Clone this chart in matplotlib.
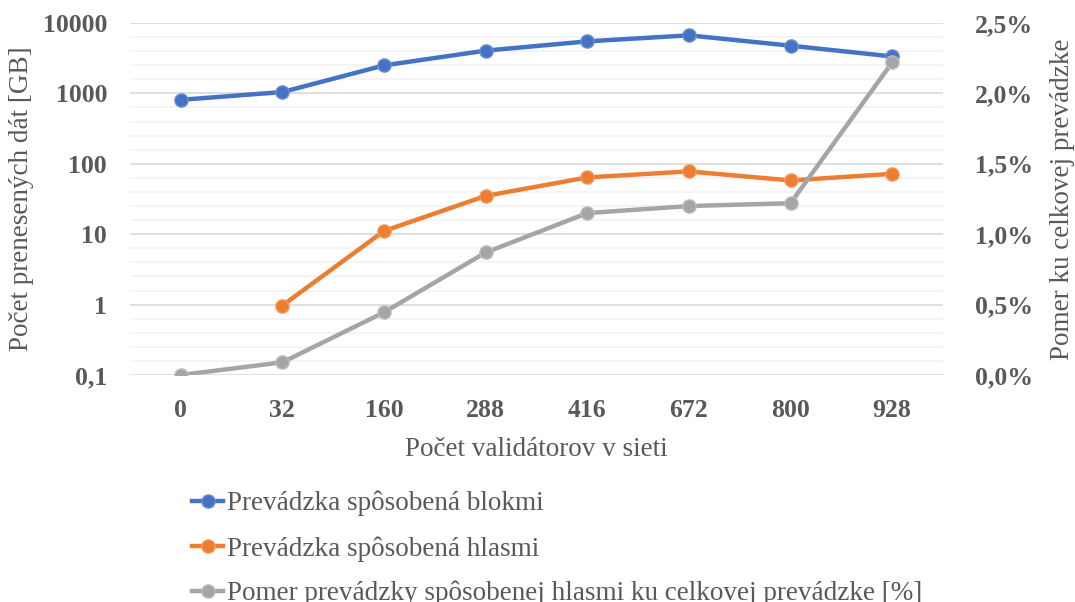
import matplotlib.pyplot as plt
import matplotlib.ticker as mticker
import numpy as np

plt.rcParams['font.family'] = ['Liberation Serif', 'DejaVu Serif']

# data
validatory = ['0', '32', '160', '288', '416', '672', '800', '928']
bloky = [810, 1045, 2500, 4050, 5480, 6680, 4760, 3350]
hlasy = [np.nan, 0.97, 11.1, 35, 64, 78, 58, 72]
pomer = [0.0, 0.0009, 0.00445, 0.0087, 0.0115, 0.0120, 0.0122, 0.0222]

nazvy = ['Prevádzka spôsobená blokmi',
         'Prevádzka spôsobená hlasmi',
         'Pomer prevádzky spôsobenej hlasmi ku celkovej prevádzke [%]']

modra = '#4472C4'
oranzova = '#ED7D31'
seda = '#A5A5A5'
text_farba = '#595959'

fig, ax = plt.subplots(figsize=(10.75, 6.02), dpi=100)
fig.subplots_adjust(left=0.1209, right=0.8772, top=0.9618, bottom=0.3771)

x = np.arange(len(validatory))

# lavá os - logaritmická
ax.set_yscale('log')
ax.set_ylim(0.1, 10000)
ax.set_xlim(-0.5, len(validatory) - 0.5)
ax.yaxis.set_major_locator(mticker.FixedLocator([0.1, 1, 10, 100, 1000, 10000]))
ax.yaxis.set_major_formatter(mticker.FixedFormatter(['0,1', '1', '10', '100', '1000', '10000']))
ax.yaxis.set_minor_locator(mticker.FixedLocator(10 ** np.arange(-1, 4.01, 0.2)))
ax.yaxis.set_minor_formatter(mticker.NullFormatter())
ax.grid(True, which='minor', axis='y', color='#F2F2F2', linewidth=1.2, zorder=0)
ax.grid(True, which='major', axis='y', color='#D9D9D9', linewidth=1.2, zorder=0)
ax.set_axisbelow(True)

l1, = ax.plot(x, bloky, color=modra, lw=3.2, marker='o', ms=9.5,
              mec='#6C8FD2', mew=1, label=nazvy[0], zorder=3)
l2, = ax.plot(x, hlasy, color=oranzova, lw=3.2, marker='o', ms=9.5,
              mec='#F29A5E', mew=1, label=nazvy[1], zorder=3)

ax.set_xticks(x)
ax.set_xticklabels(validatory)
ax.tick_params(axis='both', which='both', length=0, labelsize=18.5, colors=text_farba)
ax.tick_params(axis='x', pad=17)
ax.tick_params(axis='y', pad=16.5)
for t in ax.get_xticklabels() + ax.get_yticklabels():
    t.set_fontweight('bold')

ax.set_xlabel('Počet validátorov v sieti', fontsize=19.5, color=text_farba, labelpad=11)
ax.set_ylabel('Počet prenesených dát [GB]', fontsize=19.5, color=text_farba, labelpad=6)

# pravá os - pomer v percentách
ax2 = ax.twinx()
ax2.set_ylim(0, 0.025)
ax2.yaxis.set_major_locator(mticker.MultipleLocator(0.005))
ax2.yaxis.set_major_formatter(mticker.FuncFormatter(lambda v, p: f'{v * 100:.1f}%'.replace('.', ',')))
l3, = ax2.plot(x, pomer, color=seda, lw=3.2, marker='o', ms=9.5,
               mec='#BDBDBD', mew=1, label=nazvy[2], zorder=3)
ax2.tick_params(axis='y', length=0, labelsize=18.5, colors=text_farba, pad=23)
for t in ax2.get_yticklabels():
    t.set_fontweight('bold')
ax2.set_ylabel('Pomer ku celkovej prevádzke', fontsize=19.5, color=text_farba, labelpad=12)

for a in (ax, ax2):
    for s in a.spines.values():
        s.set_visible(False)

leg = fig.legend(handles=[l1, l2, l3], loc='upper left',
                 frameon=False, fontsize=19.5, handlelength=1.15, handletextpad=0.15,
                 labelspacing=0.72, borderaxespad=0, borderpad=0)
leg.set_bbox_to_anchor((192 / 1075, 1 - 491 / 602), transform=fig.transFigure)
for t in leg.get_texts():
    t.set_color(text_farba)

fig.savefig('out.png', dpi=100)
